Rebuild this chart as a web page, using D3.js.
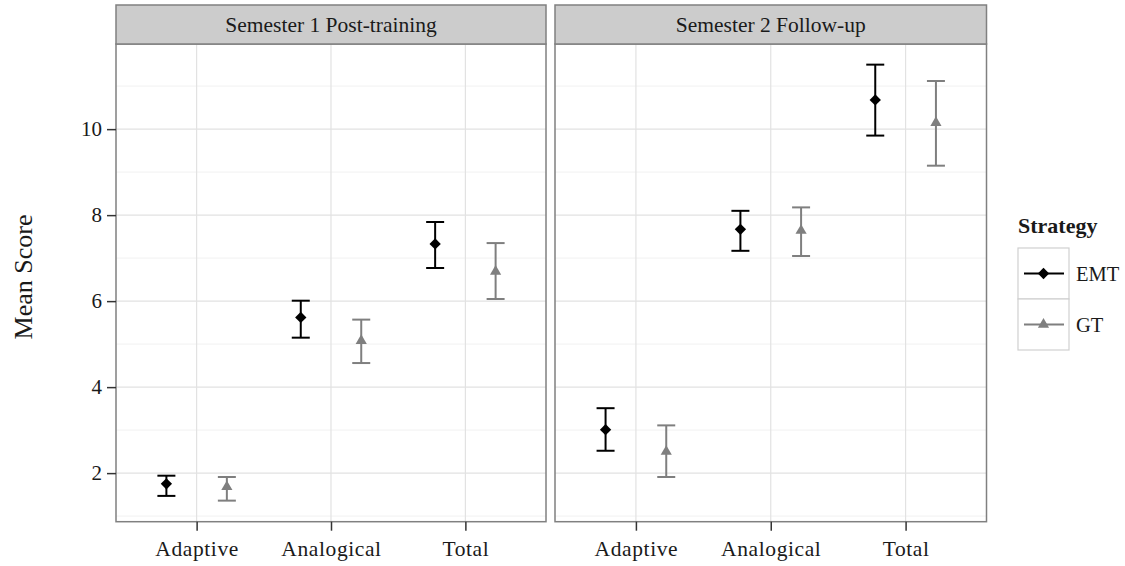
<!DOCTYPE html>
<html>
<head>
<meta charset="utf-8">
<script src="https://cdn.jsdelivr.net/npm/d3@7"></script>
<style>
  body { margin: 0; background: #fff; }
  text { font-family: "Liberation Serif", "Times New Roman", serif; fill: #1a1a1a; }
</style>
</head>
<body>
<div id="chart"></div>
<script>
const width = 1125,
    height = 566;

// facets, categories, groups
const panels = ["Semester 1 Post-training", "Semester 2 Follow-up"];
const categories = ["Adaptive", "Analogical", "Total"];
const strategies = ["EMT", "GT"];
const yTicks = [2, 4, 6, 8, 10];
const yMinor = [1, 3, 5, 7, 9, 11];

// values: mean, lower, upper
const emtMean1 = [1.75, 5.62, 7.33];
const emtLow1 = [1.47, 5.15, 6.77];
const emtHigh1 = [1.94, 6.01, 7.84];
const gtMean1 = [1.68, 5.08, 6.69];
const gtLow1 = [1.36, 4.56, 6.05];
const gtHigh1 = [1.91, 5.57, 7.35];

const emtMean2 = [3.01, 7.67, 10.68];
const emtLow2 = [2.52, 7.17, 9.85];
const emtHigh2 = [3.51, 8.10, 11.50];
const gtMean2 = [2.50, 7.64, 10.15];
const gtLow2 = [1.91, 7.05, 9.15];
const gtHigh2 = [3.11, 8.18, 11.12];

const series = [
    [[emtMean1, emtLow1, emtHigh1], [gtMean1, gtLow1, gtHigh1]],
    [[emtMean2, emtLow2, emtHigh2], [gtMean2, gtLow2, gtHigh2]]
];

const rows = [];
series.forEach((p, pi) =>
    p.forEach((s, si) =>
        categories.forEach((c, ci) =>
            rows.push({
                panel: pi,
                strategy: strategies[si],
                cat: c,
                mean: s[0][ci],
                low: s[1][ci],
                high: s[2][ci]
            })
        )
    )
);

const panelX = [[116, 546], [555, 986.5]];
const stripTop = 5,
    stripBottom = 44,
    plotBottom = 521.7;

const colour = d3.scaleOrdinal().domain(strategies).range(["#000000", "#7f7f7f"]);
const shape = d3.scaleOrdinal().domain(strategies).range(["diamond", "triangle"]);

const y = d3.scaleLinear().domain([0.87, 11.98]).range([plotBottom, stripBottom]);

const svg = d3
    .select("#chart")
    .append("svg")
    .attr("width", width)
    .attr("height", height);

function marker(sel, kind) {
    if (kind === "diamond") {
        sel.append("path")
            .attr("d", d3.symbol().type(d3.symbolSquare).size(64)())
            .attr("transform", "rotate(45)");
    } else {
        sel.append("path")
            .attr("d", d3.symbol().type(d3.symbolTriangle).size(54)());
    }
}

panels.forEach((name, pi) => {
    const [x0, x1] = panelX[pi];
    const x = d3.scalePoint().domain(categories).range([x0, x1]).padding(0.6);
    const dodge = d3.scalePoint().domain(strategies).range([-0.225, 0.225]);
    const g = svg.append("g").attr("class", "panel");

    // background + grid
    g.append("rect")
        .attr("x", x0).attr("y", stripBottom)
        .attr("width", x1 - x0).attr("height", plotBottom - stripBottom)
        .attr("fill", "#fff");
    g.selectAll(".minor")
        .data(yMinor)
        .enter()
        .append("line")
        .attr("x1", x0).attr("x2", x1)
        .attr("y1", (d) => y(d)).attr("y2", (d) => y(d))
        .attr("stroke", "#f4f4f4")
        .attr("stroke-width", 1.2);
    g.selectAll(".major")
        .data(yTicks)
        .enter()
        .append("line")
        .attr("x1", x0).attr("x2", x1)
        .attr("y1", (d) => y(d)).attr("y2", (d) => y(d))
        .attr("stroke", "#e2e2e2")
        .attr("stroke-width", 1.2);
    g.selectAll(".vgrid")
        .data(categories)
        .enter()
        .append("line")
        .attr("x1", (d) => x(d)).attr("x2", (d) => x(d))
        .attr("y1", stripBottom).attr("y2", plotBottom)
        .attr("stroke", "#e2e2e2")
        .attr("stroke-width", 1.2);

    // error bars
    const pts = rows.filter((r) => r.panel === pi);
    const cx = (d) => x(d.cat) + dodge(d.strategy) * x.step();
    const bars = g.selectAll(".bar").data(pts).enter().append("g")
        .attr("stroke", (d) => colour(d.strategy))
        .attr("stroke-width", 2);
    bars.append("line")
        .attr("x1", cx).attr("x2", cx)
        .attr("y1", (d) => y(d.low)).attr("y2", (d) => y(d.high));
    bars.append("line")
        .attr("x1", (d) => cx(d) - 9).attr("x2", (d) => cx(d) + 9)
        .attr("y1", (d) => y(d.high)).attr("y2", (d) => y(d.high));
    bars.append("line")
        .attr("x1", (d) => cx(d) - 9).attr("x2", (d) => cx(d) + 9)
        .attr("y1", (d) => y(d.low)).attr("y2", (d) => y(d.low));

    // points
    g.selectAll(".pt").data(pts).enter().append("g")
        .attr("transform", (d) => "translate(" + cx(d) + "," + y(d.mean) + ")")
        .attr("fill", (d) => colour(d.strategy))
        .each(function (d) { marker(d3.select(this), shape(d.strategy)); });

    // panel border
    g.append("rect")
        .attr("x", x0).attr("y", stripBottom)
        .attr("width", x1 - x0).attr("height", plotBottom - stripBottom)
        .attr("fill", "none")
        .attr("stroke", "#808080")
        .attr("stroke-width", 1.5);

    // strip
    g.append("rect")
        .attr("x", x0).attr("y", stripTop)
        .attr("width", x1 - x0).attr("height", stripBottom - stripTop)
        .attr("fill", "#cccccc")
        .attr("stroke", "#808080")
        .attr("stroke-width", 1.5);
    g.append("text")
        .attr("x", (x0 + x1) / 2)
        .attr("y", 31.5)
        .attr("text-anchor", "middle")
        .style("font-size", "21.5px")
        .text(name);

    // x axis
    const xAxis = d3.axisBottom(x).tickSize(9).tickPadding(4);
    const ax = g.append("g")
        .attr("transform", "translate(0," + plotBottom + ")")
        .call(xAxis);
    ax.select(".domain").remove();
    ax.selectAll(".tick line").attr("stroke", "#333").attr("stroke-width", 1.5);
    ax.selectAll(".tick text")
        .attr("dy", null)
        .attr("y", 34)
        .style("font-size", "21.5px")
        .style("letter-spacing", "0.6px")
        .attr("fill", "#1a1a1a");

    // y axis only on first panel
    if (pi === 0) {
        const yAxis = d3.axisLeft(y).tickValues(yTicks).tickSize(9).tickPadding(5);
        const ay = g.append("g")
            .attr("transform", "translate(" + x0 + ",0)")
            .call(yAxis);
        ay.select(".domain").remove();
        ay.selectAll(".tick line").attr("stroke", "#333").attr("stroke-width", 1.5);
        ay.selectAll(".tick text")
            .style("font-size", "21px")
            .attr("fill", "#1a1a1a");
    }
});

// y axis label
svg.append("text")
    .attr("transform", "translate(32,277) rotate(-90)")
    .attr("text-anchor", "middle")
    .style("font-size", "26px")
    .text("Mean Score");

// legend
const legend = svg.append("g").attr("id", "legend");
legend.append("text")
    .attr("x", 1018)
    .attr("y", 233)
    .style("font-size", "22px")
    .style("font-weight", "bold")
    .text("Strategy");
const keys = legend.selectAll(".key").data(strategies).enter().append("g")
    .attr("transform", (d, i) => "translate(1018," + (248 + i * 51) + ")");
keys.append("rect")
    .attr("width", 51).attr("height", 51)
    .attr("fill", "#fff")
    .attr("stroke", "#d0d0d0")
    .attr("stroke-width", 1.2);
keys.append("line")
    .attr("x1", 6).attr("x2", 46)
    .attr("y1", 25.5).attr("y2", 25.5)
    .attr("stroke", (d) => colour(d))
    .attr("stroke-width", 2);
keys.append("g")
    .attr("transform", "translate(25.5,25.5)")
    .attr("fill", (d) => colour(d))
    .each(function (d) { marker(d3.select(this), shape(d)); });
keys.append("text")
    .attr("x", 58)
    .attr("y", 33)
    .style("font-size", "20.5px")
    .text((d) => d);
</script>
</body>
</html>
